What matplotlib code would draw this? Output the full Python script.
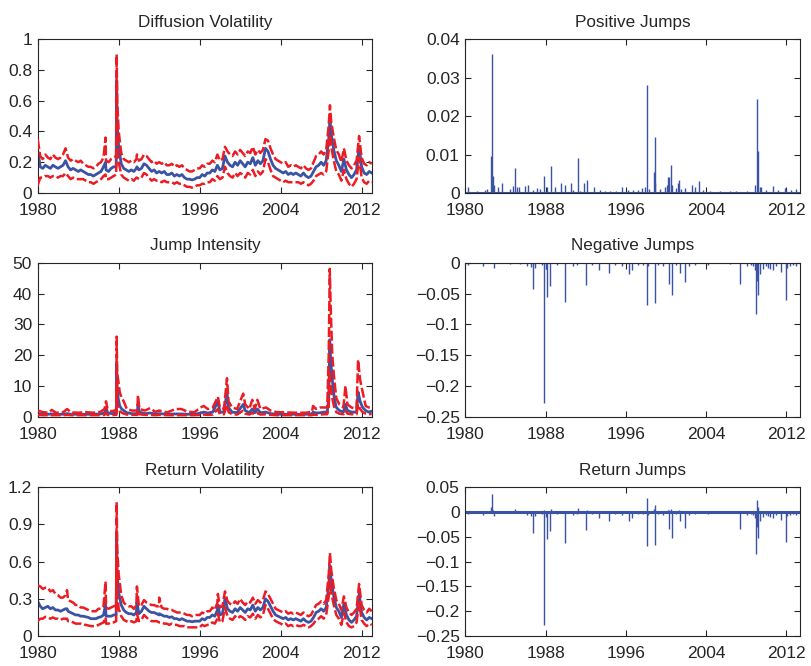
import numpy as np
import matplotlib
matplotlib.use("Agg")
import matplotlib.pyplot as plt

# ---------------- data ----------------
years_q = np.arange(1980, 2013.01, 0.25)  # quarterly sampling of the series

# Diffusion volatility (quarterly) : mean, lower, upper
dv_mean = [0.28,0.17,0.16,0.18, 0.17,0.16,0.18,0.17, 0.16,0.17,0.18,0.21, 0.17,0.15,0.16,0.15,
           0.14,0.15,0.14,0.13, 0.12,0.12,0.11,0.12, 0.13,0.14,0.17,0.15, 0.14,0.16,0.17,0.17,
           0.30,0.19,0.16,0.15, 0.14,0.15,0.14,0.16, 0.15,0.16,0.19,0.18, 0.16,0.14,0.15,0.13,
           0.14,0.13,0.14,0.12, 0.12,0.13,0.11,0.12, 0.11,0.12,0.10,0.09, 0.09,0.085,0.09,0.10,
           0.10,0.12,0.11,0.13, 0.13,0.15,0.14,0.18, 0.15,0.16,0.24,0.20, 0.18,0.17,0.20,0.18,
           0.21,0.19,0.17,0.20, 0.19,0.23,0.18,0.21, 0.19,0.21,0.29,0.27, 0.22,0.18,0.16,0.15,
           0.14,0.13,0.14,0.12, 0.13,0.12,0.13,0.12, 0.11,0.13,0.11,0.10, 0.11,0.14,0.17,0.18,
           0.20,0.18,0.21,0.35, 0.38,0.28,0.21,0.18, 0.14,0.22,0.15,0.12, 0.10,0.12,0.15,0.30,
           0.17,0.13,0.12,0.14, 0.13]
dv_upper = [0.35,0.24,0.22,0.25, 0.23,0.22,0.25,0.23, 0.22,0.23,0.25,0.29, 0.23,0.21,0.22,0.21,
            0.20,0.21,0.19,0.18, 0.17,0.17,0.16,0.17, 0.19,0.20,0.23,0.21, 0.20,0.22,0.23,0.24,
            0.40,0.26,0.22,0.21, 0.20,0.21,0.20,0.22, 0.21,0.22,0.25,0.24, 0.22,0.20,0.21,0.19,
            0.20,0.19,0.20,0.18, 0.18,0.19,0.17,0.18, 0.17,0.18,0.16,0.15, 0.14,0.14,0.15,0.16,
            0.16,0.18,0.17,0.19, 0.19,0.21,0.20,0.25, 0.21,0.22,0.30,0.27, 0.25,0.24,0.27,0.25,
            0.28,0.26,0.24,0.27, 0.26,0.30,0.25,0.28, 0.26,0.28,0.35,0.34, 0.29,0.25,0.22,0.21,
            0.20,0.19,0.20,0.17, 0.18,0.17,0.18,0.17, 0.16,0.18,0.16,0.15, 0.16,0.20,0.24,0.25,
            0.27,0.25,0.28,0.44, 0.46,0.36,0.28,0.25, 0.20,0.29,0.21,0.18, 0.16,0.18,0.21,0.37,
            0.23,0.19,0.18,0.20, 0.19]
dv_lower = [0.05,0.10,0.10,0.11, 0.11,0.10,0.11,0.11, 0.10,0.11,0.11,0.13, 0.11,0.09,0.10,0.09,
            0.09,0.09,0.09,0.08, 0.07,0.07,0.06,0.07, 0.08,0.09,0.11,0.09, 0.09,0.10,0.11,0.12,
            0.20,0.12,0.10,0.09, 0.08,0.09,0.08,0.10, 0.09,0.10,0.13,0.12, 0.10,0.08,0.09,0.08,
            0.08,0.07,0.08,0.07, 0.07,0.07,0.06,0.07, 0.06,0.06,0.05,0.04, 0.04,0.035,0.04,0.05,
            0.05,0.06,0.06,0.07, 0.07,0.09,0.08,0.11, 0.09,0.10,0.17,0.13, 0.11,0.10,0.13,0.11,
            0.13,0.12,0.10,0.13, 0.12,0.15,0.11,0.14, 0.12,0.14,0.22,0.20, 0.15,0.11,0.10,0.09,
            0.08,0.07,0.08,0.07, 0.07,0.07,0.07,0.07, 0.06,0.07,0.06,0.05, 0.06,0.08,0.11,0.12,
            0.13,0.12,0.14,0.28, 0.30,0.21,0.14,0.12, 0.08,0.15,0.09,0.06, 0.04,0.06,0.09,0.23,
            0.10,0.07,0.06,0.08, 0.07]
# extra observations at crisis dates
dv_ev_dates = [1986.70, 1987.80, 1987.85, 1989.80, 2008.87]
dv_ev_mean = [0.20, 0.73, 0.45, 0.17, 0.48]
dv_ev_upper = [0.36, 0.90, 0.60, 0.25, 0.57]
dv_ev_lower = [0.12, 0.55, 0.30, 0.10, 0.38]

# Jump intensity (irregular dates): mean, upper, lower
ji_dates = [1980.00,1980.50,1981.00,1981.40,1981.80,1982.50,1982.90,1983.30,1984.00,1984.70,
            1985.50,1986.20,1986.60,1986.75,1986.90,1987.30,1987.60,1987.78,1987.80,1987.85,
            1987.95,1988.10,1988.30,1988.50,1988.80,1989.30,1989.85,1989.90,1990.05,1990.60,
            1991.10,1991.60,1992.00,1992.80,1993.60,1994.20,1994.80,1995.50,1996.10,1996.40,
            1996.80,1997.30,1997.80,1998.00,1998.40,1998.70,1998.85,1999.20,1999.70,2000.30,
            2000.50,2000.90,2001.20,2001.45,2001.70,2002.00,2002.55,2003.00,2003.60,2004.50,
            2005.50,2006.50,2007.10,2007.20,2007.50,2007.90,2008.30,2008.60,2008.75,2008.85,
            2008.95,2009.10,2009.30,2009.50,2009.80,2010.20,2010.40,2010.60,2011.00,2011.50,
            2011.65,2011.85,2012.10,2012.40,2012.70,2013.00]
ji_mean = [1.0,0.8,0.8,0.9,0.8,0.8,1.0,0.8,0.8,0.8,
           0.8,0.9,1.2,3.0,1.3,1.0,1.1,1.2,17.0,10.0,
           6.0,3.5,2.5,2.0,1.3,1.0,1.0,4.0,1.5,1.0,
           1.2,0.9,1.0,0.8,0.9,0.9,0.8,0.8,1.2,1.5,
           1.2,1.5,5.0,1.5,1.5,8.0,3.0,1.5,1.3,4.0,
           2.0,1.3,2.5,1.3,2.5,1.3,1.5,1.0,0.8,0.8,
           0.8,0.8,0.9,1.5,1.2,1.3,1.5,1.5,6.0,25.0,
           18.0,12.0,6.0,3.0,2.0,1.5,4.0,2.0,1.5,1.5,
           8.0,5.0,3.0,2.0,1.5,1.8]
ji_upper = [2.0,1.5,1.3,2.2,1.3,1.4,2.5,1.4,1.3,1.5,
            1.3,1.6,2.5,5.0,2.5,1.8,2.0,2.5,26.0,14.0,
            12.0,8.0,6.0,5.0,2.5,2.0,2.0,7.0,2.5,2.0,
            2.8,1.6,2.0,1.4,2.5,2.5,1.6,1.5,3.0,3.5,
            2.5,3.0,6.5,3.0,2.5,12.5,5.0,3.0,2.5,7.5,
            4.0,2.5,5.5,2.5,5.5,2.5,3.0,2.0,1.5,1.4,
            1.3,1.3,1.6,3.5,2.5,3.0,3.0,3.0,20.0,48.0,
            35.0,20.0,12.0,6.0,4.0,3.0,10.0,4.0,3.0,2.5,
            18.5,12.0,8.0,3.5,3.0,3.0]
ji_lower = [0.6,0.5,0.5,0.5,0.5,0.5,0.6,0.5,0.5,0.5,
            0.5,0.5,0.6,1.5,0.6,0.5,0.6,0.6,9.0,5.0,
            3.0,1.8,1.3,1.0,0.7,0.6,0.6,2.0,0.8,0.6,
            0.6,0.5,0.6,0.5,0.5,0.5,0.5,0.5,0.6,0.7,
            0.6,0.7,2.5,0.8,0.8,4.0,1.5,0.8,0.7,2.0,
            1.0,0.7,1.2,0.7,1.2,0.7,0.8,0.6,0.5,0.5,
            0.5,0.5,0.5,0.7,0.6,0.7,0.8,0.8,3.0,15.0,
            10.0,6.0,3.0,1.5,1.0,0.8,2.0,1.0,0.8,0.8,
            4.0,2.5,1.5,1.0,0.8,0.9]

# Return volatility (quarterly): mean, upper, lower
rv_mean = [0.28,0.24,0.22,0.23, 0.24,0.22,0.23,0.21, 0.21,0.20,0.21,0.22, 0.20,0.19,0.18,0.17,
           0.17,0.16,0.16,0.155, 0.15,0.14,0.14,0.14, 0.15,0.155,0.17,0.16, 0.16,0.16,0.17,0.17,
           0.35,0.25,0.21,0.19, 0.18,0.18,0.17,0.19, 0.18,0.20,0.24,0.22, 0.20,0.19,0.19,0.18,
           0.17,0.17,0.16,0.16, 0.15,0.155,0.14,0.14, 0.13,0.14,0.13,0.12, 0.12,0.115,0.12,0.12,
           0.12,0.14,0.13,0.15, 0.15,0.17,0.16,0.21, 0.17,0.18,0.30,0.22, 0.20,0.19,0.22,0.20,
           0.23,0.21,0.19,0.22, 0.21,0.25,0.20,0.23, 0.21,0.23,0.30,0.28, 0.24,0.20,0.17,0.16,
           0.15,0.14,0.15,0.13, 0.14,0.13,0.14,0.13, 0.12,0.14,0.12,0.11, 0.12,0.15,0.19,0.20,
           0.22,0.20,0.23,0.40, 0.45,0.32,0.23,0.20, 0.15,0.26,0.17,0.13, 0.11,0.13,0.16,0.34,
           0.19,0.15,0.13,0.15, 0.14]
rv_upper = [0.41,0.40,0.38,0.39, 0.39,0.36,0.37,0.34, 0.33,0.31,0.31,0.33, 0.29,0.28,0.27,0.25,
            0.25,0.23,0.23,0.22, 0.21,0.20,0.20,0.20, 0.22,0.22,0.24,0.23, 0.22,0.23,0.24,0.25,
            0.50,0.33,0.27,0.25, 0.24,0.24,0.22,0.25, 0.24,0.25,0.29,0.27, 0.26,0.25,0.25,0.24,
            0.24,0.23,0.22,0.22, 0.21,0.21,0.20,0.19, 0.19,0.19,0.18,0.17, 0.17,0.16,0.17,0.17,
            0.17,0.19,0.18,0.20, 0.20,0.23,0.21,0.27, 0.23,0.24,0.36,0.28, 0.26,0.25,0.28,0.26,
            0.30,0.27,0.25,0.28, 0.27,0.31,0.26,0.29, 0.27,0.29,0.36,0.34, 0.30,0.26,0.22,0.21,
            0.20,0.19,0.20,0.18, 0.19,0.18,0.19,0.18, 0.17,0.19,0.17,0.16, 0.17,0.21,0.25,0.26,
            0.28,0.26,0.29,0.50, 0.53,0.39,0.29,0.26, 0.21,0.32,0.23,0.19, 0.17,0.19,0.22,0.42,
            0.25,0.21,0.19,0.22, 0.20]
rv_lower = [0.12,0.14,0.14,0.155, 0.15,0.14,0.15,0.14, 0.14,0.13,0.14,0.14, 0.12,0.12,0.11,0.10,
            0.10,0.10,0.09,0.09, 0.085,0.08,0.08,0.08, 0.09,0.10,0.11,0.10, 0.10,0.11,0.11,0.12,
            0.22,0.16,0.13,0.12, 0.11,0.12,0.11,0.12, 0.12,0.13,0.17,0.15, 0.13,0.12,0.12,0.12,
            0.11,0.11,0.10,0.10, 0.09,0.10,0.09,0.09, 0.08,0.08,0.08,0.07, 0.07,0.07,0.07,0.07,
            0.07,0.09,0.08,0.09, 0.09,0.11,0.10,0.14, 0.11,0.12,0.23,0.16, 0.14,0.13,0.16,0.14,
            0.16,0.15,0.13,0.16, 0.15,0.18,0.14,0.17, 0.15,0.17,0.25,0.22, 0.18,0.14,0.12,0.11,
            0.10,0.09,0.10,0.08, 0.09,0.08,0.09,0.08, 0.08,0.09,0.08,0.07, 0.08,0.10,0.13,0.14,
            0.16,0.14,0.17,0.32, 0.35,0.25,0.17,0.14, 0.09,0.19,0.11,0.08, 0.07,0.08,0.11,0.27,
            0.13,0.10,0.08,0.10, 0.09]
rv_ev_dates = [1982.90, 1986.70, 1987.80, 1987.85, 1989.80, 1992.00, 1997.80, 2008.87]
rv_ev_mean = [0.22, 0.25, 0.83, 0.50, 0.27, 0.18, 0.25, 0.57]
rv_ev_upper = [0.37, 0.44, 1.08, 0.70, 0.40, 0.31, 0.34, 0.67]
rv_ev_lower = [0.14, 0.15, 0.60, 0.35, 0.18, 0.11, 0.18, 0.45]

# Positive jumps
pj_dates = [1980.30,1981.13,1981.96,1982.19,1982.56,1982.62,1982.76,1982.89,1983.22,1983.65,
            1984.45,1984.78,1984.98,1985.18,1985.34,1985.94,1986.27,1986.77,1987.10,1987.44,
            1987.87,1988.13,1988.50,1988.93,1989.53,1989.93,1990.49,1990.76,1991.19,1991.42,
            1991.78,1992.12,1992.85,1993.41,1993.91,1994.41,1995.00,1995.57,1996.23,1996.73,
            1997.23,1997.56,1997.86,1998.06,1998.32,1998.79,1998.89,1998.95,1999.39,1999.88,
            2000.05,2000.22,2000.32,2000.45,2000.61,2000.98,2001.18,2001.25,2001.54,2001.94,
            2002.57,2002.87,2003.27,2003.70,2004.36,2005.36,2006.36,2007.02,2008.02,2008.88,
            2009.08,2009.15,2009.34,2009.51,2010.01,2010.61,2011.17,2011.83,2012.00,2012.50,
            2013.00]
pj_vals = [0.0015,0.0004,0.0007,0.0010,0.0095,0.0361,0.0045,0.0022,0.0015,0.0025,
           0.0010,0.0018,0.0065,0.0016,0.0015,0.0017,0.0020,0.0008,0.0012,0.0010,
           0.0045,0.0015,0.0071,0.0015,0.0025,0.0020,0.0025,0.0008,0.0092,0.0006,
           0.0025,0.0035,0.0015,0.0008,0.0006,0.0005,0.0006,0.0015,0.0008,0.0007,
           0.0008,0.0012,0.0015,0.0280,0.0010,0.0055,0.0145,0.0025,0.0010,0.0015,
           0.0020,0.0042,0.0042,0.0072,0.0020,0.0012,0.0025,0.0035,0.0010,0.0012,
           0.0020,0.0015,0.0032,0.0008,0.0005,0.0004,0.0005,0.0005,0.0006,0.0020,
           0.0243,0.0110,0.0015,0.0015,0.0008,0.0018,0.0008,0.0012,0.0009,0.0007,
           0.0010]

# Negative jumps
nj_dates = [1980.23,1981.73,1982.89,1984.45,1985.44,1986.11,1986.54,1986.77,1986.94,1987.60,
            1987.87,1988.00,1988.13,1988.40,1989.10,1989.89,1990.72,1991.09,1992.02,1992.58,
            1993.31,1994.31,1994.90,1995.57,1996.33,1996.63,1997.23,1997.73,1998.06,1998.22,
            1998.89,1999.22,1999.72,2000.25,2000.55,2000.98,2001.44,2001.94,2002.31,2002.87,
            2004.20,2006.36,2007.42,2008.02,2008.42,2008.68,2008.88,2009.01,2009.11,2009.18,
            2009.34,2009.68,2009.94,2010.17,2010.41,2010.61,2010.94,2011.50,2011.93,2012.07,
            2012.33,2012.66,2013.00]
nj_vals = [-0.003,-0.005,-0.008,-0.002,-0.002,-0.005,-0.007,-0.042,-0.008,-0.003,
           -0.228,-0.010,-0.055,-0.038,-0.003,-0.063,-0.005,-0.003,-0.036,-0.003,
           -0.012,-0.017,-0.003,-0.005,-0.018,-0.012,-0.004,-0.004,-0.069,-0.005,
           -0.066,-0.004,-0.006,-0.035,-0.053,-0.004,-0.017,-0.032,-0.006,-0.003,
           -0.003,-0.002,-0.035,-0.005,-0.004,-0.006,-0.012,-0.084,-0.030,-0.052,
           -0.018,-0.010,-0.006,-0.008,-0.010,-0.012,-0.006,-0.015,-0.061,-0.008,
           -0.006,-0.004,-0.005]

# ---------------- style ----------------
BLUE = "#3a53a4"
RED = "#ec1c24"
TXT = "#262626"
plt.rcParams["font.family"] = ["Liberation Sans", "DejaVu Sans"]

fig = plt.figure(figsize=(8.11, 6.66), dpi=100)

W = 0.4125
lefts = [0.0465, 0.5737]
# [bottom, height] for each row
rows = [(0.7102, 0.2312), (0.3743, 0.2312), (0.0450, 0.2233)]


def merge(dates_a, vals_a, dates_b, vals_b):
    d = np.concatenate([np.asarray(dates_a, float), np.asarray(dates_b, float)])
    v = np.concatenate([np.asarray(vals_a, float), np.asarray(vals_b, float)])
    o = np.argsort(d, kind="stable")
    return d[o], v[o]


def style(ax, title, xmax, ylim, yticks, yticklabels):
    ax.set_xlim(1980, xmax)
    ax.set_ylim(*ylim)
    ax.set_xticks([1980, 1988, 1996, 2004, 2012])
    ax.set_yticks(yticks)
    ax.set_yticklabels(yticklabels)
    ax.tick_params(direction="in", length=4, width=0.8, top=True, right=True,
                   labelsize=12.5, colors=TXT)
    ax.tick_params(axis="x", pad=7.3)
    ax.tick_params(axis="y", pad=4)
    for s in ax.spines.values():
        s.set_color(TXT)
        s.set_linewidth(0.8)
    ax.set_title(title, fontsize=12.3, color=TXT, pad=9)


def vol_panel(ax, dates, mean, lower, upper):
    ax.plot(dates, mean, color=BLUE, lw=2.0, zorder=2)
    ax.plot(dates, lower, color=RED, lw=1.8, ls=(0, (4, 1.2)), zorder=3)
    ax.plot(dates, upper, color=RED, lw=1.8, ls=(0, (4, 1.2)), zorder=3)


def new_ax(col, row):
    b, h = rows[row]
    return fig.add_axes([lefts[col], b, W, h])


# Diffusion Volatility
ax = new_ax(0, 0)
d, m = merge(years_q, dv_mean, dv_ev_dates, dv_ev_mean)
_, lo = merge(years_q, dv_lower, dv_ev_dates, dv_ev_lower)
_, up = merge(years_q, dv_upper, dv_ev_dates, dv_ev_upper)
vol_panel(ax, d, m, lo, up)
style(ax, "Diffusion Volatility", 2013.05, (0, 1),
      [0, 0.2, 0.4, 0.6, 0.8, 1], ["0", "0.2", "0.4", "0.6", "0.8", "1"])

# Jump Intensity
ax = new_ax(0, 1)
vol_panel(ax, ji_dates, ji_mean, ji_lower, ji_upper)
style(ax, "Jump Intensity", 2013.05, (0, 50),
      [0, 10, 20, 30, 40, 50], ["0", "10", "20", "30", "40", "50"])

# Return Volatility
ax = new_ax(0, 2)
d, m = merge(years_q, rv_mean, rv_ev_dates, rv_ev_mean)
_, lo = merge(years_q, rv_lower, rv_ev_dates, rv_ev_lower)
_, up = merge(years_q, rv_upper, rv_ev_dates, rv_ev_upper)
vol_panel(ax, d, m, lo, up)
style(ax, "Return Volatility", 2013.05, (0, 1.2),
      [0, 0.3, 0.6, 0.9, 1.2], ["0", "0.3", "0.6", "0.9", "1.2"])

# Positive Jumps
ax = new_ax(1, 0)
ax.vlines(pj_dates, 0, pj_vals, color=BLUE, lw=1.0)
ax.axhline(0, color=BLUE, lw=1.5)
style(ax, "Positive Jumps", 2013.33, (0, 0.04),
      [0, 0.01, 0.02, 0.03, 0.04], ["0", "0.01", "0.02", "0.03", "0.04"])

# Negative Jumps
ax = new_ax(1, 1)
ax.vlines(nj_dates, nj_vals, 0, color=BLUE, lw=1.0)
ax.axhline(0, color=BLUE, lw=1.5)
style(ax, "Negative Jumps", 2013.33, (-0.25, 0),
      [-0.25, -0.2, -0.15, -0.1, -0.05, 0],
      ["\u22120.25", "\u22120.2", "\u22120.15", "\u22120.1", "\u22120.05", "0"])

# Return Jumps
ax = new_ax(1, 2)
ax.vlines(pj_dates, 0, pj_vals, color=BLUE, lw=1.0)
ax.vlines(nj_dates, nj_vals, 0, color=BLUE, lw=1.0)
ax.axhline(0, color=BLUE, lw=2.2)
style(ax, "Return Jumps", 2013.33, (-0.25, 0.05),
      [-0.25, -0.2, -0.15, -0.1, -0.05, 0, 0.05],
      ["\u22120.25", "\u22120.2", "\u22120.15", "\u22120.1", "\u22120.05", "0", "0.05"])

fig.savefig("out.png", dpi=100)
